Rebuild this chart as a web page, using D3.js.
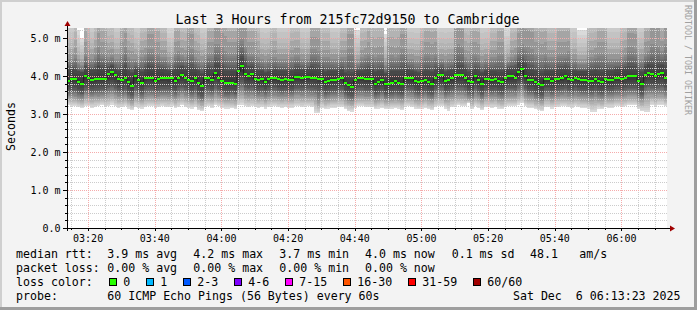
<!DOCTYPE html>
<html>
<head>
<meta charset="utf-8">
<script src="https://cdn.jsdelivr.net/npm/d3@7"></script>
<style>
html, body { margin: 0; padding: 0; background: #f3f3f3; }
svg { display: block; font-family: "DejaVu Sans Mono", monospace; }
text { white-space: pre; }
</style>
</head>
<body>
<svg id="chart" width="697" height="310"></svg>
<script>
// ---- data ----
const title = 'Last 3 Hours from 215fc72d9150 to Cambridge';
const yLabel = 'Seconds';
const watermark = 'RRDTOOL / TOBI OETIKER';
const startTime = Date.UTC(2025, 11, 6, 3, 13, 40);
const stepMs = 60 * 1000;
const yTop = 5.263;
const yTicks = [0, 1, 2, 3, 4, 5];

// median rtt per minute (ms)
const median = [
	3.86,3.91,3.91,3.83,3.78,3.99,3.95,3.90,3.91,3.91,3.91,3.91,4.04,4.10,4.02,3.92,3.90,3.95,3.83,3.74,
	3.99,3.89,3.81,3.94,3.96,3.94,3.86,3.92,3.94,3.94,3.94,3.94,3.86,3.96,4.02,3.96,3.90,3.86,3.94,3.81,
	3.73,3.96,3.94,3.89,4.07,3.94,
	3.86,3.82,3.82,3.82,3.80,4.12,4.25,4.04,4.01,4.05,3.91,3.89,3.91,3.83,3.91,3.96,3.96,3.91,3.89,3.91,
	3.89,3.89,3.98,3.98,3.96,3.98,3.98,3.96,3.96,3.91,3.91,3.83,3.86,3.89,3.89,3.91,3.94,3.82,3.75,3.72,
	3.89,3.96,3.96,3.91,3.91,
	3.91,3.78,3.83,3.89,3.78,3.78,3.81,3.86,3.81,3.78,3.96,3.96,3.94,3.86,3.83,3.86,3.89,3.83,3.80,3.94,
	4.02,4.02,3.86,3.89,3.94,4.02,4.02,4.02,3.96,3.86,3.83,3.99,3.89,3.80,3.91,3.91,3.89,3.91,3.86,3.83,
	3.94,3.99,3.99,3.96,4.10,
	4.18,3.99,3.89,3.89,3.83,3.78,3.75,3.91,3.91,3.86,3.91,3.91,3.94,3.99,3.91,3.89,3.96,3.91,3.89,3.89,
	3.86,3.86,3.91,3.86,3.83,3.91,3.89,3.89,3.94,3.94,3.91,3.96,3.99,3.99,3.99,3.86,3.80,4.02,4.07,4.04,
	3.99,4.04,4.07,3.96
];

// smoke: upper end of the lightest smoke (max pings)
const smokeTop = [
	5.6,5.6,6.2,5.2,5.0,7.0,6.2,5.6,6.2,8.0,7.0,7.0,6.0,6.0,5.6,5.6,7.0,8.0,6.2,6.2,
	5.6,5.6,6.2,6.2,8.0,8.0,7.0,7.0,6.2,6.2,5.4,5.4,7.0,7.0,6.2,6.2,8.0,8.0,6.2,6.2,
	5.6,5.6,7.0,7.0,9.0,9.0,
	8.0,8.0,7.0,7.0,7.0,10,10,9.0,7.0,7.0,7.0,6.2,5.6,5.6,5.6,6.2,6.2,5.6,5.6,5.6,
	5.6,6.2,6.2,6.2,5.6,5.6,5.6,7.5,7.5,7.5,6.2,6.2,6.2,5.6,5.6,5.6,6.2,6.2,8.0,8.0,
	5.2,5.2,6.2,6.2,7.0,
	6.5,6.5,6.5,6.5,5.1,6.5,6.5,6.5,6.5,8.0,8.0,5.6,5.6,5.6,5.6,6.2,7.0,7.0,7.0,7.0,
	5.6,5.6,5.6,5.6,5.6,8.5,8.5,8.5,6.2,6.2,7.0,7.0,7.0,5.6,5.6,5.6,6.2,6.2,7.0,7.0,
	5.3,5.3,6.2,6.2,8.0,
	8.5,8.5,8.5,8.5,7.0,7.0,7.0,7.0,6.2,6.2,6.2,7.0,7.0,7.0,7.0,5.6,5.6,5.2,5.2,5.2,
	6.2,6.2,6.2,7.0,7.0,7.0,5.6,5.6,5.6,5.6,6.2,6.2,8.0,8.0,8.0,5.6,5.6,7.0,7.0,9.0,
	9.0,9.0,7.0,9.0
];

// smoke: where the mid grey fades into the light grey
const smokeUpper = [
	4.45,4.45,4.55,4.35,4.30,4.60,4.50,4.45,4.55,4.75,4.60,4.60,4.50,4.55,4.45,4.45,4.60,4.75,4.50,4.45,
	4.45,4.40,4.50,4.55,4.70,4.70,4.60,4.60,4.50,4.50,4.40,4.40,4.60,4.65,4.55,4.50,4.75,4.70,4.50,4.45,
	4.40,4.45,4.60,4.60,4.85,4.85,
	4.75,4.65,4.60,4.60,4.60,4.95,5.00,4.80,4.60,4.60,4.60,4.50,4.45,4.40,4.45,4.50,4.50,4.45,4.45,4.45,
	4.45,4.50,4.55,4.55,4.45,4.45,4.45,4.70,4.70,4.65,4.50,4.50,4.50,4.45,4.45,4.45,4.50,4.50,4.70,4.70,
	4.35,4.35,4.50,4.55,4.60,
	4.55,4.50,4.55,4.55,4.30,4.55,4.55,4.50,4.55,4.70,4.70,4.45,4.45,4.40,4.40,4.50,4.60,4.60,4.55,4.60,
	4.45,4.45,4.40,4.45,4.45,4.80,4.85,4.80,4.50,4.45,4.60,4.60,4.55,4.40,4.45,4.45,4.50,4.50,4.60,4.60,
	4.35,4.40,4.50,4.55,4.75,
	4.85,4.80,4.75,4.70,4.60,4.60,4.55,4.60,4.50,4.50,4.50,4.60,4.60,4.60,4.65,4.45,4.45,4.35,4.35,4.35,
	4.50,4.50,4.55,4.60,4.60,4.60,4.45,4.45,4.45,4.45,4.50,4.55,4.75,4.75,4.70,4.45,4.45,4.60,4.65,4.85,
	4.85,4.80,4.65,4.85
];

// smoke: dark core, upper edge
const smokeDarkHi = [
	4.16,4.18,4.15,4.12,4.10,4.22,4.18,4.15,4.18,4.25,4.20,4.20,4.22,4.26,4.20,4.14,4.18,4.24,4.12,4.08,
	4.18,4.16,4.10,4.18,4.24,4.22,4.16,4.18,4.18,4.16,4.14,4.14,4.18,4.20,4.24,4.20,4.22,4.20,4.18,4.12,
	4.06,4.18,4.20,4.16,4.30,4.28,
	4.20,4.14,4.12,4.14,4.12,4.40,4.48,4.30,4.22,4.24,4.16,4.14,4.12,4.08,4.10,4.14,4.16,4.12,4.12,4.12,
	4.10,4.12,4.18,4.18,4.16,4.16,4.18,4.22,4.20,4.18,4.16,4.10,4.12,4.14,4.12,4.14,4.16,4.08,4.06,4.04,
	4.12,4.14,4.14,4.16,4.18,
	4.16,4.10,4.12,4.14,4.06,4.08,4.12,4.14,4.12,4.14,4.20,4.16,4.14,4.10,4.08,4.10,4.14,4.12,4.10,4.16,
	4.18,4.20,4.10,4.12,4.16,4.20,4.24,4.22,4.18,4.10,4.10,4.18,4.14,4.08,4.14,4.14,4.12,4.14,4.10,4.10,
	4.16,4.20,4.20,4.22,4.32,
	4.36,4.28,4.18,4.16,4.12,4.10,4.08,4.14,4.14,4.12,4.14,4.16,4.18,4.20,4.16,4.12,4.14,4.12,4.12,4.12,
	4.12,4.14,4.16,4.12,4.10,4.14,4.14,4.14,4.18,4.18,4.18,4.20,4.22,4.22,4.22,4.12,4.10,4.24,4.28,4.26,
	4.22,4.26,4.30,4.24
];

// smoke: dark core, lower edge
const smokeDarkLo = [
	3.66,3.68,3.68,3.62,3.58,3.72,3.70,3.66,3.68,3.68,3.70,3.68,3.76,3.80,3.74,3.68,3.66,3.70,3.60,3.54,
	3.72,3.66,3.60,3.70,3.72,3.70,3.64,3.68,3.70,3.70,3.70,3.68,3.64,3.72,3.76,3.72,3.66,3.62,3.70,3.58,
	3.52,3.70,3.70,3.66,3.78,3.70,
	3.64,3.60,3.60,3.62,3.58,3.82,3.90,3.76,3.74,3.76,3.68,3.66,3.68,3.62,3.68,3.72,3.72,3.68,3.66,3.68,
	3.66,3.66,3.74,3.74,3.72,3.74,3.74,3.72,3.72,3.68,3.68,3.60,3.64,3.66,3.66,3.68,3.70,3.60,3.54,3.52,
	3.66,3.72,3.72,3.68,3.68,
	3.68,3.56,3.60,3.66,3.56,3.56,3.60,3.64,3.60,3.56,3.72,3.72,3.70,3.64,3.60,3.64,3.66,3.60,3.58,3.70,
	3.76,3.76,3.64,3.66,3.70,3.76,3.76,3.76,3.72,3.64,3.60,3.74,3.66,3.58,3.68,3.68,3.66,3.68,3.64,3.60,
	3.70,3.74,3.74,3.72,3.82,
	3.88,3.74,3.66,3.66,3.60,3.56,3.54,3.68,3.68,3.64,3.68,3.68,3.70,3.74,3.68,3.66,3.72,3.68,3.66,3.66,
	3.64,3.64,3.68,3.64,3.60,3.68,3.66,3.66,3.70,3.70,3.68,3.72,3.74,3.74,3.74,3.64,3.58,3.76,3.80,3.78,
	3.74,3.78,3.80,3.72
];

// smoke: where the lower mid grey fades into light grey
const smokeLower = [
	3.45,3.46,3.44,3.40,3.38,3.48,3.46,3.44,3.46,3.44,3.46,3.45,3.50,3.52,3.48,3.44,3.42,3.46,3.38,3.34,
	3.46,3.42,3.38,3.44,3.46,3.46,3.42,3.44,3.46,3.46,3.44,3.44,3.40,3.46,3.50,3.46,3.42,3.40,3.44,3.36,
	3.32,3.44,3.46,3.42,3.50,3.46,
	3.42,3.40,3.38,3.40,3.38,3.52,3.56,3.48,3.46,3.48,3.44,3.42,3.44,3.40,3.44,3.46,3.46,3.44,3.42,3.44,
	3.42,3.42,3.48,3.48,3.46,3.46,3.46,3.46,3.44,3.30,3.44,3.38,3.40,3.42,3.42,3.44,3.44,3.38,3.34,3.32,
	3.42,3.46,3.46,3.44,3.44,
	3.44,3.36,3.38,3.42,3.36,3.36,3.38,3.40,3.38,3.36,3.46,3.46,3.44,3.40,3.38,3.40,3.42,3.38,3.36,3.44,
	3.48,3.48,3.40,3.42,3.44,3.48,3.48,3.48,3.46,3.40,3.38,3.46,3.42,3.36,3.44,3.44,3.42,3.44,3.40,3.38,
	3.44,3.46,3.46,3.46,3.52,
	3.56,3.46,3.42,3.42,3.38,3.36,3.34,3.44,3.44,3.40,3.44,3.44,3.46,3.46,3.44,3.42,3.46,3.44,3.42,3.42,
	3.40,3.40,3.44,3.40,3.38,3.44,3.42,3.42,3.46,3.46,3.44,3.46,3.48,3.48,3.48,3.40,3.36,3.48,3.50,3.50,
	3.46,3.50,3.50,3.46
];

// smoke: lower end (min pings)
const smokeBottom = [
	3.24,3.22,3.22,3.20,3.18,3.22,3.22,3.18,3.20,3.22,3.24,3.20,3.22,3.26,3.22,3.18,3.20,3.22,3.16,3.12,
	3.20,3.18,3.16,3.20,3.22,3.22,3.18,3.20,3.22,3.20,3.20,3.22,3.18,3.20,3.24,3.20,3.18,3.16,3.20,3.12,
	3.10,3.20,3.22,3.18,3.24,3.22,
	3.18,3.16,3.16,3.18,3.14,3.24,3.26,3.22,3.20,3.22,3.20,3.18,3.20,3.16,3.20,3.22,3.22,3.20,3.18,3.20,
	3.18,3.18,3.22,3.22,3.20,3.22,3.22,3.20,3.04,3.04,3.18,3.14,3.16,3.18,3.18,3.20,3.20,3.14,3.10,3.08,
	3.18,3.22,3.22,3.20,3.20,
	3.20,3.14,3.16,3.18,3.14,3.14,3.16,3.18,3.16,3.12,3.22,3.22,3.20,3.16,3.14,3.16,3.18,3.14,3.12,3.20,
	3.22,3.22,3.16,3.10,3.20,3.22,3.24,3.22,3.22,3.30,3.14,3.22,3.18,3.12,3.20,3.20,3.18,3.20,3.16,3.14,
	3.20,3.22,3.22,3.22,3.26,
	3.30,3.22,3.18,3.18,3.14,3.12,3.10,3.20,3.20,3.16,3.20,3.20,3.22,3.22,3.20,3.18,3.22,3.20,3.18,3.18,
	3.16,3.08,3.08,3.16,3.14,3.20,3.18,3.18,3.22,3.22,3.20,3.22,3.24,3.24,3.24,3.14,3.10,3.06,3.06,3.26,
	3.22,3.26,3.26,3.22
];

const rowLabels = ['median rtt:', 'packet loss:', 'loss color:', 'probe:'];
const rttStats = ['3.9 ms avg', '4.2 ms max', '3.7 ms min', '4.0 ms now', '0.1 ms sd', '48.1', 'am/s'];
const lossStats = ['0.00 % avg', '0.00 % max', '0.00 % min', '0.00 % now'];
const lossLabels = ['0', '1', '2-3', '4-6', '7-15', '16-30', '31-59', '60/60'];
const lossColors = ['#26ff00', '#00b8ff', '#0059ff', '#7e00ff', '#ff00ff', '#ff5500', '#ff0000', '#a10000'];
const probeText = '60 ICMP Echo Pings (56 Bytes) every 60s';
const stampText = 'Sat Dec  6 06:13:23 2025';

// ---- layout ----
const W = 697, H = 310;
const plot = { left: 67, right: 667, top: 28, bottom: 228 };
const statX = [107.3, 193.3, 279.3, 365, 451.7, 530, 579.3];
const rowY = [258.4, 272.2, 286, 299.8];
const legendFont = 11.6, charW = 7;

const n = median.length;
const times = d3.range(n).map(i => new Date(startTime + i * stepMs));
const endTime = new Date(startTime + n * stepMs);

const x = d3.scaleUtc().domain([new Date(startTime), endTime]).range([plot.left, plot.right]);
const y = d3.scaleLinear().domain([0, yTop]).range([plot.bottom, plot.top]);
const crisp = v => Math.round(v) + 0.5;

const svg = d3.select('#chart');

// background + rrdtool style frame
svg.append('rect').attr('width', W).attr('height', H).attr('fill', '#f3f3f3');
svg.append('rect').attr('x', 0).attr('y', 0).attr('width', W).attr('height', 2).attr('fill', '#cfcfcf');
svg.append('rect').attr('x', 0).attr('y', 0).attr('width', 2).attr('height', H).attr('fill', '#cfcfcf');
svg.append('rect').attr('x', 0).attr('y', H - 3).attr('width', W).attr('height', 3).attr('fill', '#9e9e9e');
svg.append('rect').attr('x', W - 3).attr('y', 0).attr('width', 3).attr('height', H).attr('fill', '#9e9e9e');

// plot area
svg.append('rect')
	.attr('x', plot.left).attr('y', plot.top)
	.attr('width', plot.right - plot.left).attr('height', plot.bottom - plot.top)
	.attr('fill', '#ffffff');

const defs = svg.append('defs');
defs.append('clipPath').attr('id', 'plotClip')
	.append('rect')
	.attr('x', plot.left).attr('y', plot.top)
	.attr('width', plot.right - plot.left).attr('height', plot.bottom - plot.top);

// dotted grid patterns (1px on, 1px off)
function dots(id, w, h, color) {
	defs.append('pattern').attr('id', id)
		.attr('patternUnits', 'userSpaceOnUse').attr('width', w).attr('height', h)
		.append('rect').attr('width', 1).attr('height', 1).attr('fill', color);
}
dots('dotGrayH', 2, 1, '#cccccc');
dots('dotGrayV', 1, 2, '#cccccc');
dots('dotRedH', 2, 1, '#f5acac');
dots('dotRedV', 1, 2, '#f5acac');

// smoke: each band fades between greys (colour ramps listed bottom -> top)
const bands = [
	{ lo: smokeUpper, hi: smokeTop, ramp: [[0, '#8e8e8e'], [0.3, '#b2b2b2'], [1, '#dedede']] },
	{ lo: smokeDarkHi, hi: smokeUpper, ramp: [[0, '#4a4a4a'], [0.4, '#6c6c6c'], [1, '#8e8e8e']] },
	{ lo: smokeDarkLo, hi: smokeDarkHi, ramp: [[0, '#555555'], [0.5, '#363636'], [1, '#4a4a4a']] },
	{ lo: smokeLower, hi: smokeDarkLo, ramp: [[0, '#9a9a9a'], [1, '#555555']] },
	{ lo: smokeBottom, hi: smokeLower, ramp: [[0, '#dedede'], [1, '#9a9a9a']] }
];
const slices = 8;
const smoke = svg.append('g').attr('clip-path', 'url(#plotClip)').attr('shape-rendering', 'crispEdges');
bands.forEach(b => {
	const shade = d3.scaleLinear()
		.domain(b.ramp.map(s => s[0]))
		.range(b.ramp.map(s => s[1]))
		.interpolate(d3.interpolateRgb);
	const parts = [];
	times.forEach((t, i) => {
		const yLo = y(b.lo[i]), yHi = y(b.hi[i]);
		const h = (yLo - yHi) / slices;
		for (let k = 0; k < slices; k++) {
			parts.push({ t: t, y0: yLo - (k + 1) * h, h: h, c: shade((k + 0.5) / slices) });
		}
	});
	smoke.selectAll(null).data(parts).join('rect')
		.attr('x', d => x(d.t))
		.attr('width', d => x(new Date(+d.t + stepMs)) - x(d.t))
		.attr('y', d => d.y0)
		.attr('height', d => d.h + 0.6)
		.attr('fill', d => d.c);
});

// grid
const grid = svg.append('g').attr('shape-rendering', 'crispEdges');
const minorTimes = d3.utcMinute.every(5).range(new Date(startTime), endTime);
const majorTimes = d3.utcMinute.every(20).range(new Date(startTime), endTime);
const minorVals = d3.range(1, 27).filter(k => k % 5 != 0).map(k => k * 0.2);
const majorVals = yTicks.filter(v => v > 0);

function vLines(data, fill) {
	grid.selectAll(null).data(data).join('rect')
		.attr('x', d => Math.round(x(d))).attr('width', 1)
		.attr('y', plot.top).attr('height', plot.bottom - plot.top)
		.attr('fill', fill);
}
function hLines(data, fill) {
	grid.selectAll(null).data(data).join('rect')
		.attr('x', plot.left).attr('width', plot.right - plot.left)
		.attr('y', d => Math.round(y(d))).attr('height', 1)
		.attr('fill', fill);
}
vLines(minorTimes.filter(t => t.getUTCMinutes() % 20 != 0), 'url(#dotGrayV)');
hLines(minorVals, 'url(#dotGrayH)');
vLines(majorTimes, 'url(#dotRedV)');
hLines(majorVals, 'url(#dotRedH)');

// median: dark step line, then the loss coloured bands
const swidth = yTop / (plot.bottom - plot.top);
const stepPts = times.map((t, i) => [x(t), y(median[i])]);
stepPts.push([x(endTime), y(median[n - 1])]);
svg.append('path')
	.attr('d', d3.line().curve(d3.curveStepAfter)(stepPts))
	.attr('fill', 'none').attr('stroke', '#202020').attr('stroke-width', 1);

svg.append('g').attr('shape-rendering', 'crispEdges')
	.selectAll('rect').data(times).join('rect')
	.attr('x', d => x(d))
	.attr('width', d => x(new Date(+d + stepMs)) - x(d))
	.attr('y', (d, i) => y(median[i] + swidth))
	.attr('height', (d, i) => y(median[i] - swidth) - y(median[i] + swidth))
	.attr('fill', lossColors[0]);

// axes
const axes = svg.append('g').attr('shape-rendering', 'crispEdges');
axes.append('line').attr('x1', plot.left - 4).attr('x2', plot.right + 3)
	.attr('y1', crisp(plot.bottom)).attr('y2', crisp(plot.bottom)).attr('stroke', '#000');
axes.append('line').attr('x1', crisp(plot.left)).attr('x2', crisp(plot.left))
	.attr('y1', plot.bottom + 3).attr('y2', plot.top - 3).attr('stroke', '#000');
svg.append('path')
	.attr('d', `M${plot.left + 0.5},${plot.top - 7}L${plot.left + 3.5},${plot.top - 2}L${plot.left - 2.5},${plot.top - 2}Z`)
	.attr('fill', '#a00000');
svg.append('path')
	.attr('d', `M${plot.right + 8},${plot.bottom + 0.5}L${plot.right + 3},${plot.bottom - 2.5}L${plot.right + 3},${plot.bottom + 3.5}Z`)
	.attr('fill', '#a00000');

// ticks
axes.selectAll(null).data(minorVals).join('line')
	.attr('x1', plot.left - 2).attr('x2', plot.left)
	.attr('y1', d => crisp(y(d))).attr('y2', d => crisp(y(d))).attr('stroke', '#000');
axes.selectAll(null).data(yTicks).join('line')
	.attr('x1', plot.left - 4).attr('x2', plot.left)
	.attr('y1', d => crisp(y(d))).attr('y2', d => crisp(y(d))).attr('stroke', '#000');
axes.selectAll(null).data(minorTimes).join('line')
	.attr('x1', d => crisp(x(d))).attr('x2', d => crisp(x(d)))
	.attr('y1', plot.bottom).attr('y2', plot.bottom + 2).attr('stroke', '#000');
axes.selectAll(null).data(majorTimes).join('line')
	.attr('x1', d => crisp(x(d))).attr('x2', d => crisp(x(d)))
	.attr('y1', plot.bottom).attr('y2', plot.bottom + 3).attr('stroke', '#000');

// tick labels
const fmtY = v => v == 0 ? '0.0' : v.toFixed(1) + ' m';
svg.append('g').selectAll('text').data(yTicks).join('text')
	.attr('x', 60.5).attr('y', d => y(d) + 4)
	.attr('text-anchor', 'end').attr('font-size', 10).attr('fill', '#000')
	.text(fmtY);
svg.append('g').selectAll('text').data(majorTimes).join('text')
	.attr('x', d => x(d)).attr('y', 241.5)
	.attr('text-anchor', 'middle').attr('font-size', 10).attr('fill', '#000')
	.text(d3.utcFormat('%H:%M'));

// title, axis label, watermark
svg.append('text').attr('x', 347.5).attr('y', 24).attr('text-anchor', 'middle')
	.attr('font-size', 13.3).attr('fill', '#000').text(title);
svg.append('text').attr('transform', 'translate(15,126.5) rotate(-90)')
	.attr('text-anchor', 'middle').attr('font-size', legendFont).attr('fill', '#000').text(yLabel);
svg.append('text').attr('transform', 'translate(684.5,5) rotate(90)')
	.attr('font-size', 8.3).attr('fill', '#a0a0a0').text(watermark);

// legend
const legend = svg.append('g').attr('font-size', legendFont).attr('fill', '#000');
rowLabels.forEach((t, i) => legend.append('text').attr('x', 16).attr('y', rowY[i]).text(t));
rttStats.forEach((t, i) => legend.append('text').attr('x', statX[i]).attr('y', rowY[0]).text(t));
lossStats.forEach((t, i) => legend.append('text').attr('x', statX[i]).attr('y', rowY[1]).text(t));

let bx = 108.7;
lossLabels.forEach((t, i) => {
	legend.append('rect')
		.attr('x', Math.round(bx) + 0.5).attr('y', 278.5).attr('width', 7).attr('height', 7)
		.attr('fill', lossColors[i]).attr('stroke', '#000').attr('stroke-width', 1);
	legend.append('text').attr('x', bx + 14.6).attr('y', rowY[2]).text(t);
	bx += 30 + charW * t.length;
});

legend.append('text').attr('x', statX[0]).attr('y', rowY[3]).text(probeText);
legend.append('text').attr('x', 680.5).attr('y', rowY[3]).attr('text-anchor', 'end').text(stampText);
</script>
</body>
</html>
